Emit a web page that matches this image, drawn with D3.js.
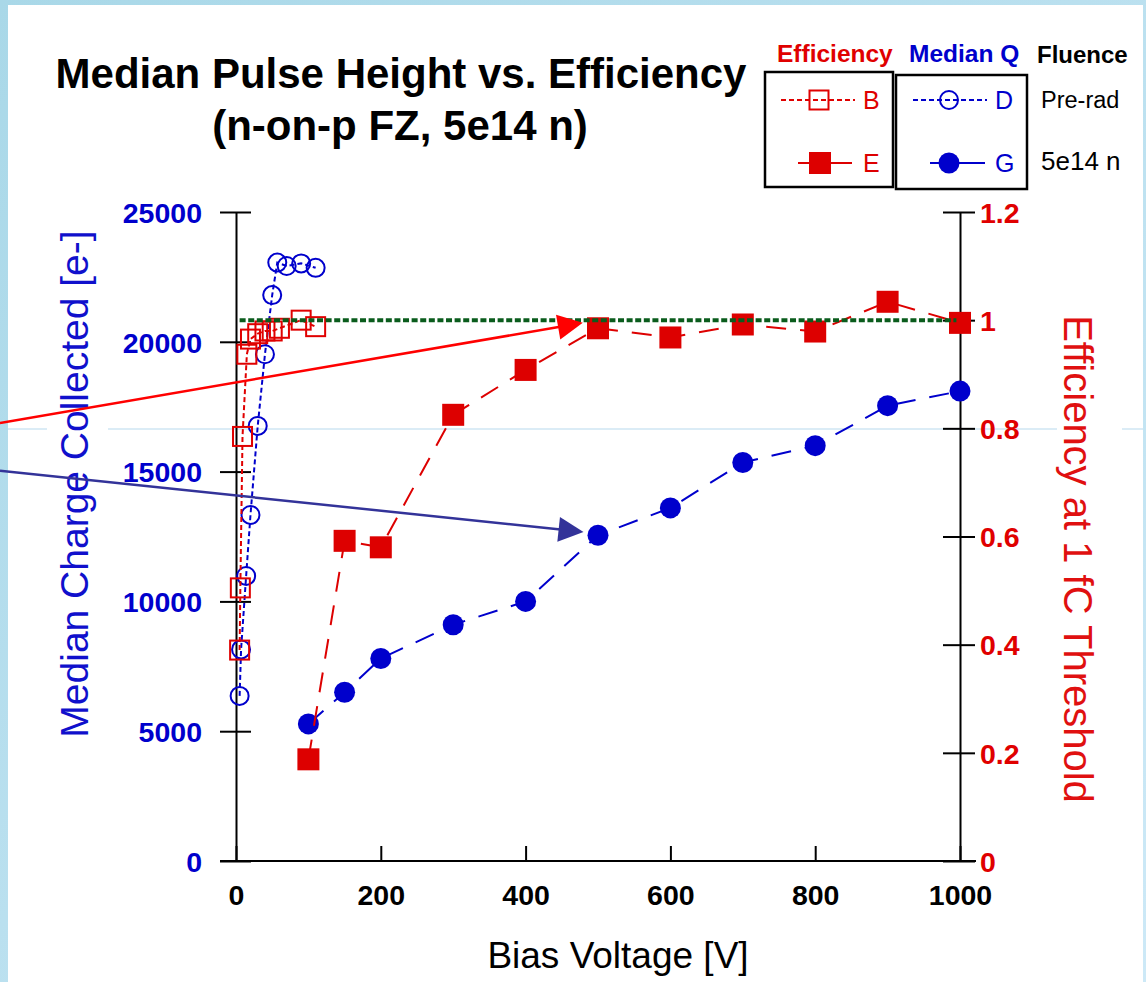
<!DOCTYPE html>
<html>
<head>
<meta charset="utf-8">
<script src="https://cdn.jsdelivr.net/npm/d3@7"></script>
<style>
  body { margin: 0; background: #fff; }
  svg { display: block; font-family: Arial, "Liberation Sans", Helvetica, sans-serif; }
</style>
</head>
<body>
<svg id="chart" width="1146" height="982"></svg>
<script>
// ---- data ----
const preradEffVoltage = [5, 6, 9, 15, 20, 30, 40, 50, 60, 90, 110];
const preradEfficiency = [0.39, 0.505, 0.785, 0.937, 0.965, 0.975, 0.98, 0.98, 0.985, 1.0, 0.988];
const preradQVoltage   = [5, 7, 14, 20, 30, 40, 50, 57, 70, 90, 110];
const preradCharge     = [6360, 8150, 10980, 13330, 16760, 19520, 21800, 23050, 22920, 23020, 22850];
const irradVoltage     = [100, 150, 200, 300, 400, 500, 600, 700, 800, 900, 1000];
const irradEfficiency  = [0.188, 0.592, 0.580, 0.825, 0.908, 0.985, 0.968, 0.992, 0.979, 1.034, 0.995];
const irradCharge      = [5280, 6500, 7800, 9100, 10000, 12550, 13600, 15350, 16000, 17540, 18100];

const xTicks      = [0, 200, 400, 600, 800, 1000];
const chargeTicks = [0, 5000, 10000, 15000, 20000, 25000];
const effTicks    = [0, 0.2, 0.4, 0.6, 0.8, 1.0, 1.2];

// full-efficiency reference level
const fullEffLevel = { from: 5, to: 995, value: 1 };

// annotation arrows (voltage, value on the named axis)
const arrows = [
  { axis: "eff",    from: [-326, 0.81],  to: [479, 0.995], color: "#ff0000" },
  { axis: "charge", from: [-326, 15035], to: [480, 12673], color: "#333399" }
];

const RED = "#e00000", BLUE = "#0000cc";

const svg = d3.select("#chart");

// ---- slide background ----
const defs = svg.append("defs");
const grad = defs.append("linearGradient").attr("id", "bg").attr("x1", 0).attr("y1", 0).attr("x2", 1).attr("y2", 1);
grad.append("stop").attr("offset", "0%").attr("stop-color", "#a9d8e8");
grad.append("stop").attr("offset", "100%").attr("stop-color", "#cde9f7");
svg.append("rect").attr("width", 1146).attr("height", 982).attr("fill", "url(#bg)");
svg.append("rect").attr("x", 8).attr("y", 5).attr("width", 1135).attr("height", 977).attr("fill", "#fff");
[[8, 47], [108, 1057], [1122, 1143]].forEach(([a, b]) => {
  svg.append("line").attr("x1", a).attr("x2", b).attr("y1", 429).attr("y2", 429)
    .attr("stroke", "#cfe6f3").attr("stroke-width", 1.5);
});

// ---- scales ----
const x  = d3.scaleLinear().domain([0, 1000]).range([236, 960]);
const yQ = d3.scaleLinear().domain([0, 25000]).range([861, 212]);
const yE = d3.scaleLinear().domain([0, 1.2]).range([861, 212]);

// ---- axes ----
const tickFont = "bold 28.5px Arial, 'Liberation Sans', sans-serif";

const gLeft = svg.append("g").attr("transform", `translate(${x(0)},0)`)
  .call(d3.axisLeft(yQ).tickValues(chargeTicks).tickFormat(d3.format("d"))
    .tickSizeInner(16).tickSizeOuter(0).tickPadding(18));
gLeft.selectAll(".tick line").attr("x1", 15).attr("x2", -16);
gLeft.selectAll(".tick text").style("font", tickFont).attr("fill", BLUE).attr("dy", "0.36em");

const gRight = svg.append("g").attr("transform", `translate(${x(1000)},0)`)
  .call(d3.axisRight(yE).tickValues(effTicks).tickFormat(d => d === 0 ? "0" : String(+d.toFixed(1)))
    .tickSizeInner(16).tickSizeOuter(0).tickPadding(4));
gRight.selectAll(".tick line").attr("x1", -17).attr("x2", 15);
gRight.selectAll(".tick text").style("font", tickFont).attr("fill", RED).attr("dy", "0.36em");

const gBottom = svg.append("g").attr("transform", `translate(0,${yQ(0)})`)
  .call(d3.axisBottom(x).tickValues(xTicks).tickFormat(d3.format("d"))
    .tickSizeInner(-15).tickSizeOuter(0).tickPadding(24));
gBottom.select(".domain").attr("d", `M${x(0) - 16},0H${x(1000) + 16}`);
gBottom.selectAll(".tick text").style("font", tickFont).attr("fill", "#000");

[gLeft, gRight, gBottom].forEach(g => {
  g.select(".domain").attr("stroke", "#000").attr("stroke-width", 2);
  g.selectAll(".tick line").attr("stroke", "#000").attr("stroke-width", 2);
});

// ---- axis titles ----
svg.append("text").attr("transform", `translate(88,484) rotate(-90)`)
  .attr("text-anchor", "middle").attr("fill", "#1010cc")
  .style("font-size", "39px").text("Median Charge Collected [e-]");
svg.append("text").attr("transform", `translate(1064,559) rotate(90)`)
  .attr("text-anchor", "middle").attr("fill", "#e01010")
  .style("font-size", "40px").text("Efficiency at 1 fC Threshold");
svg.append("text").attr("x", 618).attr("y", 968).attr("text-anchor", "middle")
  .attr("fill", "#000").style("font-size", "37px").text("Bias Voltage [V]");

// ---- title ----
svg.append("text").attr("x", 401).attr("y", 88).attr("text-anchor", "middle")
  .style("font", "bold 42px Arial, 'Liberation Sans', sans-serif").text("Median Pulse Height vs. Efficiency");
svg.append("text").attr("x", 400).attr("y", 140).attr("text-anchor", "middle")
  .style("font", "bold 42px Arial, 'Liberation Sans', sans-serif").text("(n-on-p FZ, 5e14 n)");

// ---- series ----
function series(vs, vals, yScale, opts) {
  const pts = vs.map((v, i) => [x(v), yScale(vals[i])]);
  const g = svg.append("g");
  g.append("path").attr("d", d3.line()(pts)).attr("fill", "none")
    .attr("stroke", opts.color).attr("stroke-width", 2).attr("stroke-dasharray", opts.dash);
  if (opts.shape === "circle") {
    g.selectAll("circle").data(pts).join("circle")
      .attr("cx", d => d[0]).attr("cy", d => d[1]).attr("r", opts.size / 2)
      .attr("fill", opts.filled ? opts.color : "none")
      .attr("stroke", opts.color).attr("stroke-width", opts.filled ? 0 : 2);
  } else {
    g.selectAll("rect").data(pts).join("rect")
      .attr("x", d => d[0] - opts.size / 2).attr("y", d => d[1] - opts.size / 2)
      .attr("width", opts.size).attr("height", opts.size)
      .attr("fill", opts.filled ? opts.color : "none")
      .attr("stroke", opts.color).attr("stroke-width", opts.filled ? 0 : 2);
  }
}

series(preradQVoltage, preradCharge, yQ, { color: BLUE, dash: "5,3", shape: "circle", size: 18, filled: false });
series(irradVoltage, irradCharge, yQ, { color: BLUE, dash: "20,14", shape: "circle", size: 21, filled: true });
series(preradEffVoltage, preradEfficiency, yE, { color: RED, dash: "5,3", shape: "square", size: 19, filled: false });
series(irradVoltage, irradEfficiency, yE, { color: "#dd0000", dash: "20,14", shape: "square", size: 22, filled: true });

// ---- full-efficiency reference ----
svg.append("line")
  .attr("x1", x(fullEffLevel.from)).attr("x2", x(fullEffLevel.to))
  .attr("y1", yE(fullEffLevel.value)).attr("y2", yE(fullEffLevel.value))
  .attr("stroke", "#0a5c1c").attr("stroke-width", 4).attr("stroke-dasharray", "6,2.6");

// ---- arrows ----
arrows.forEach(a => {
  const ys = a.axis === "eff" ? yE : yQ;
  const p0 = [x(a.from[0]), ys(a.from[1])];
  const p1 = [x(a.to[0]), ys(a.to[1])];
  const dx = p1[0] - p0[0], dy = p1[1] - p0[1];
  const len = Math.hypot(dx, dy);
  const u = [dx / len, dy / len], n = [-u[1], u[0]];
  const headLen = 25, halfW = 12.5;
  const base = [p1[0] - u[0] * headLen, p1[1] - u[1] * headLen];
  svg.append("line").attr("x1", p0[0]).attr("y1", p0[1])
    .attr("x2", base[0] + u[0] * 2).attr("y2", base[1] + u[1] * 2)
    .attr("stroke", a.color).attr("stroke-width", 2.5);
  svg.append("path")
    .attr("d", `M${p1[0]},${p1[1]}L${base[0] + n[0] * halfW},${base[1] + n[1] * halfW}L${base[0] - n[0] * halfW},${base[1] - n[1] * halfW}Z`)
    .attr("fill", a.color);
});

// ---- legend ----
const lg = svg.append("g");
const hdr = "bold 24.5px Arial, 'Liberation Sans', sans-serif";
lg.append("text").attr("x", 777).attr("y", 62).style("font", hdr).attr("fill", RED).text("Efficiency");
lg.append("text").attr("x", 909).attr("y", 62).style("font", hdr).attr("fill", BLUE).text("Median Q");
lg.append("text").attr("x", 1037).attr("y", 63).style("font", "bold 24px Arial, 'Liberation Sans', sans-serif").attr("fill", "#000").text("Fluence");

lg.append("rect").attr("x", 765).attr("y", 72).attr("width", 128).attr("height", 115)
  .attr("fill", "#fff").attr("stroke", "#000").attr("stroke-width", 2.5);
lg.append("rect").attr("x", 896).attr("y", 75).attr("width", 131).attr("height", 114)
  .attr("fill", "#fff").attr("stroke", "#000").attr("stroke-width", 2.5);

const entries = [
  { x1: 781, x2: 855, cx: 819, y: 100, color: RED, dash: "5,3", shape: "square", filled: false, size: 19, label: "B", lx: 863 },
  { x1: 798, x2: 852, cx: 820, y: 163, color: "#dd0000", dash: null, shape: "square", filled: true, size: 22, label: "E", lx: 863 },
  { x1: 913, x2: 987, cx: 949, y: 100, color: BLUE, dash: "5,3", shape: "circle", filled: false, size: 18, label: "D", lx: 995 },
  { x1: 930, x2: 985, cx: 949, y: 163, color: BLUE, dash: null, shape: "circle", filled: true, size: 21, label: "G", lx: 995 }
];
entries.forEach(e => {
  lg.append("line").attr("x1", e.x1).attr("x2", e.x2).attr("y1", e.y).attr("y2", e.y)
    .attr("stroke", e.color).attr("stroke-width", 2).attr("stroke-dasharray", e.dash);
  if (e.shape === "circle") {
    lg.append("circle").attr("cx", e.cx).attr("cy", e.y).attr("r", e.size / 2)
      .attr("fill", e.filled ? e.color : "none").attr("stroke", e.color).attr("stroke-width", e.filled ? 0 : 2);
  } else {
    lg.append("rect").attr("x", e.cx - e.size / 2).attr("y", e.y - e.size / 2)
      .attr("width", e.size).attr("height", e.size)
      .attr("fill", e.filled ? e.color : "none").attr("stroke", e.color).attr("stroke-width", e.filled ? 0 : 2);
  }
  lg.append("text").attr("x", e.lx).attr("y", e.y + 9).attr("fill", e.color)
    .style("font-size", "25px").text(e.label);
});
lg.append("text").attr("x", 1041).attr("y", 108).style("font-size", "23.5px").attr("fill", "#000").text("Pre-rad");
lg.append("text").attr("x", 1041).attr("y", 170).style("font-size", "26px").attr("fill", "#000").text("5e14 n");
</script>
</body>
</html>
